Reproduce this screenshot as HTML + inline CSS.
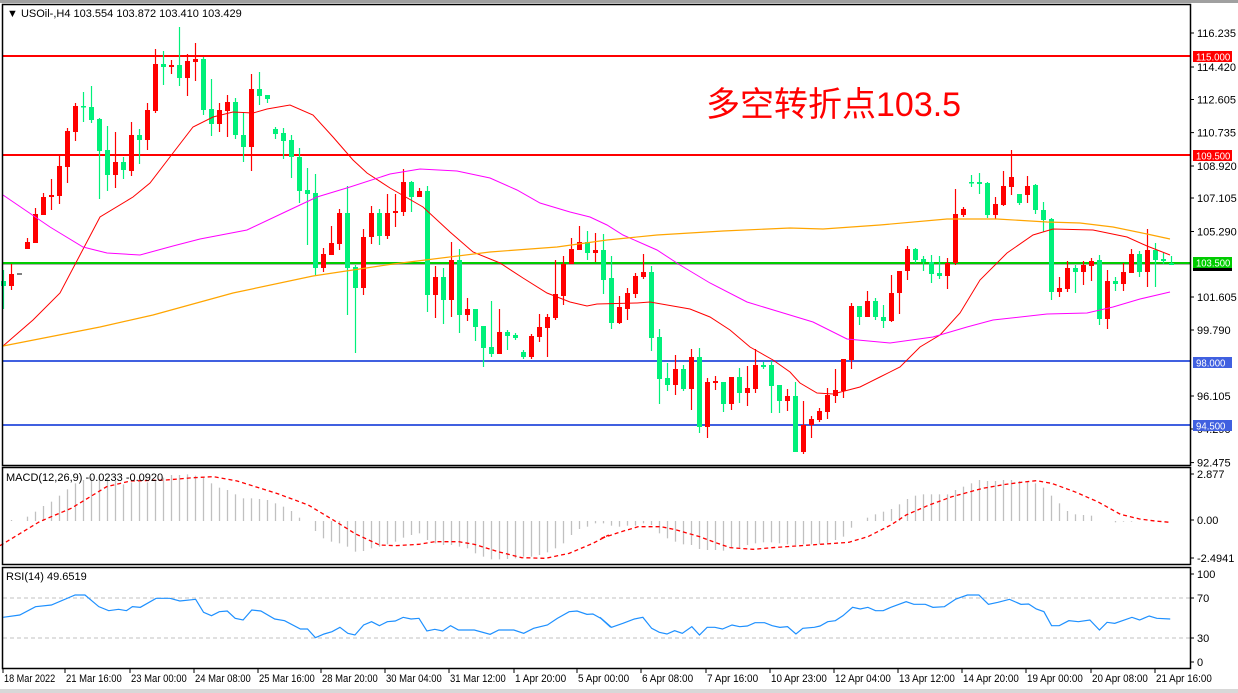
<!DOCTYPE html>
<html><head><meta charset="utf-8"><style>
html,body{margin:0;padding:0;background:#fff;width:1238px;height:693px;overflow:hidden}
svg{display:block}
text{font-family:"Liberation Sans",sans-serif;font-size:11px;fill:#000}
</style></head><body>
<svg id="s" width="1238" height="693" xmlns="http://www.w3.org/2000/svg">
<rect x="0" y="0" width="1238" height="3" fill="#a0a0a0"/>
<rect x="0" y="689" width="1238" height="4" fill="#d8d8d8"/>
<g id="g"></g>
<rect x="2.5" y="4.5" width="1188" height="461" fill="none" stroke="#000" stroke-width="1.5"/>
<rect x="2.5" y="467.5" width="1188" height="97" fill="none" stroke="#000" stroke-width="1.5"/>
<rect x="2.5" y="567.5" width="1188" height="101" fill="none" stroke="#000" stroke-width="1.5"/>
<text x="7" y="17">▼ USOil-,H4  103.554 103.872 103.410 103.429</text>
<text x="6" y="481">MACD(12,26,9) -0.0233 -0.0920</text>
<text x="6" y="580">RSI(14) 49.6519</text>
<text x="706" y="116" style="font-size:34px;fill:#ff0000;font-family:'Liberation Sans','Noto Sans CJK SC',sans-serif">多空转折点103.5</text>
<g id="ax"></g>
</svg>
<script>
var NS="http://www.w3.org/2000/svg",g=document.getElementById('g'),ax=document.getElementById('ax');
function el(p,t,a,txt){var e=document.createElementNS(NS,t);for(var k in a)e.setAttribute(k,a[k]);if(txt!=null)e.textContent=txt;p.appendChild(e);return e;}
el(g,'line',{x1:3,x2:1190,y1:264.5,y2:264.5,stroke:'#b0b0b0','stroke-width':1});
[[56,'#ff0000'],[155,'#ff0000'],[263,'#00cc00'],[361,'#4060e0'],[425,'#4060e0']].forEach(function(l){el(g,'line',{x1:3,x2:1190,y1:l[0],y2:l[0],stroke:l[1],'stroke-width':2});});
var C=[
['g',281,286,270,309],['r',274,286,264,290],null,['r',242,249,238,249],['r',214,243,208,243],['r',197,215,193,215],['r',195,197,179,210],['r',166,196,155,204],['r',131,167,128,183],['r',106,132,103,141],
['g',106,107,92,122],['g',107,120,86,123],['g',119,151,118,199],['g',150,175,126,191],['r',162,175,132,188],['g',162,170,157,179],['r',135,171,122,176],['g',135,140,129,164],['r',110,140,103,150],['r',64,111,49,113],
['g',64,67,51,85],['r',65,67,60,74],['g',65,78,27,86],['r',61,78,54,96],['r',59,62,43,81],['g',59,110,57,115],['g',109,124,79,136],['r',110,124,103,132],['r',102,111,95,137],['g',102,135,98,139],
['g',135,147,112,162],['r',89,147,74,171],['g',89,96,72,105],['g',95,99,95,103],['g',129,134,127,139],['g',133,141,128,159],['g',140,157,135,178],['g',157,191,148,203],['g',190,194,168,245],['g',193,268,174,275],
['r',254,268,248,272],['r',243,255,226,255],['r',213,244,209,250],['g',213,268,186,315],['g',267,288,265,353],['r',237,288,229,295],['r',213,237,206,244],['g',213,236,209,245],['r',213,236,194,239],['r',211,213,194,227],
['r',182,212,169,216],['g',182,197,181,212],['r',191,197,188,197],['g',191,295,186,312],['r',277,295,266,318],['g',277,300,268,324],['r',260,300,242,317],['g',260,315,249,333],['r',309,315,298,321],['g',309,327,309,341],
['g',326,348,326,367],['g',347,354,301,357],['r',332,354,309,354],['g',332,336,330,350],['g',335,338,333,340],['g',352,357,350,359],['r',336,357,334,359],['r',327,337,314,342],['r',317,328,314,357],['r',294,318,260,320],
['r',264,296,256,305],['r',249,264,238,264],['r',242,250,226,250],['g',242,253,231,260],['r',250,253,233,262],['g',250,280,234,294],['g',278,323,256,329],['r',307,323,296,324],['r',293,309,288,320],['r',276,294,273,298],
['r',272,277,254,279],['g',272,338,266,351],['g',337,379,329,404],['g',378,385,363,391],['r',369,385,355,395],['g',369,389,365,391],['r',357,389,349,410],['g',357,427,348,433],['r',382,427,378,438],['r',381,383,376,390],
['g',382,404,382,412],['r',377,404,377,410],['g',377,393,368,403],['r',388,393,366,406],['r',365,389,349,393],['g',365,367,362,369],['g',365,386,361,413],['g',385,401,385,413],['r',396,401,389,411],['g',396,452,382,452],
['r',425,452,401,454],['r',419,425,416,438],['r',411,420,408,422],['r',395,412,388,419],['r',390,396,369,403],['r',359,391,359,398],['r',306,360,303,369],['g',306,317,306,325],['r',301,317,291,317],['g',301,317,298,320],
['g',317,321,305,328],['r',293,321,275,322],['r',271,293,271,314],['r',249,271,246,280],['g',249,260,248,263],['g',259,262,256,271],['g',262,274,255,283],['g',273,276,256,279],['r',263,276,258,289],['r',214,263,189,265],
['r',209,215,207,217],['g',182,183,175,187],['g',182,184,173,194],['g',183,215,182,218],['r',204,215,197,219],['r',186,205,171,206],['r',177,187,150,195],['g',194,203,194,205],['r',186,195,176,203],['g',185,210,184,214],
['g',210,220,202,232],['g',219,292,218,300],['r',288,292,277,297],['r',268,289,261,292],['g',268,272,265,293],['r',265,272,261,285],['r',261,266,258,281],['g',260,319,255,325],['r',281,319,270,329],['g',281,284,277,291],
['r',272,284,263,291],['r',254,273,249,273],['g',254,272,251,277],['r',250,272,229,287],['g',250,260,243,287],['g',259,261,253,264],['g',263,265,256,265]];
C.forEach(function(c,i){if(!c)return;var x=3.5+8*i,col=c[0]=='r'?'#ff0000':'#00f07a';
el(g,'line',{x1:x,x2:x,y1:c[3],y2:c[4],stroke:col,'stroke-width':1.2});
el(g,'rect',{x:x-2.5,y:c[1],width:5,height:Math.max(1.5,c[2]-c[1]),fill:col});});
el(g,'line',{x1:17,x2:22,y1:274,y2:274,stroke:'#000','stroke-width':1});
function pl(pts,col,w,dash){el(g,'polyline',{points:pts.map(function(p){return p.join(',')}).join(' '),fill:'none',stroke:col,'stroke-width':w||1,'stroke-dasharray':dash||'none'});}
pl([[3,346],[33,320],[60,293],[100,217],[133,197],[150,183],[173,153],[193,127],[213,117],[233,112],[253,113],[267,109],[290,105],[313,115],[333,137],[353,160],[367,173],[390,188],[423,207],[450,232],[473,252],[500,263],[523,278],[547,293],[570,302],[587,306],[597,304],[637,303],[650,302],[690,309],[710,317],[730,330],[750,347],[773,360],[790,372],[800,383],[817,393],[833,394],[860,387],[880,377],[900,367],[920,347],[940,335],[960,313],[980,280],[1007,253],[1033,235],[1053,229],[1093,230],[1127,237],[1147,246],[1170,255]],'#ff0000',1);
pl([[3,195],[50,227],[83,247],[107,253],[140,255],[173,246],[200,239],[247,230],[283,213],[317,197],[350,187],[390,174],[420,169],[457,171],[490,178],[517,190],[540,203],[570,212],[590,217],[607,225],[623,235],[657,250],[680,265],[710,283],[747,302],[780,312],[813,322],[847,339],[890,343],[933,337],[967,327],[993,320],[1047,314],[1087,313],[1113,307],[1140,299],[1170,292]],'#ff00ff',1);
pl([[3,346],[100,327],[153,315],[233,293],[313,276],[393,264],[490,252],[557,247],[607,240],[657,235],[723,231],[790,228],[823,229],[880,225],[947,219],[997,219],[1047,222],[1080,223],[1113,227],[1147,234],[1170,239]],'#ffa500',1.2);
var H=[197,195,197,185,170,153,140,122,103,85,75,68,65,70,78,88,82,80,82,75,68,60,60,58,62,68,85,98,105,118,130,130,132,135,145,155,168,188,197,228,250,260,265,275,290,288,280,275,268,260,248,240,235,255,265,270,270,275,280,295,305,313,313,312,310,305,305,300,292,280,265,240,222,215,205,
205,212,215,212,212,205,210,235,250,260,268,270,282,285,285,287,280,278,270,265,262,262,265,268,270,268,268,268,265,255,245,218,197,188,178,170,162,148,132,122,118,118,118,118,105,95,85,75,78,78,75,75,78,82,85,98,122,145,168,178,180,182,197,197,202,200,200,197,197,197,197,197];
H.forEach(function(v,i){var x=3.5+8*i,y=455+v/3;if(Math.abs(y-521)<0.5)return;el(g,'line',{x1:x,x2:x,y1:521,y2:y,stroke:'#c0c0c0','stroke-width':1.3});});
var S=[[0,272],[100,200],[180,160],[270,95],[330,78],[420,75],[490,68],[540,65],[600,78],[700,115],[780,150],[850,200],[900,237],[960,270],[1000,272],[1060,268],[1100,260],[1160,260],[1200,268],[1260,290],[1320,308],[1380,310],[1440,295],[1500,265],[1540,240]].map(function(p){return[p[0]/2.53,455+p[1]/3]});
var S2=[[0,252],[50,232],[100,215],[160,215],[200,225],[260,245],[300,262],[340,278],[400,283],[450,278],[550,270],[650,262],[700,245],[760,210],[800,180],[860,150],[920,125],[1000,100],[1060,88],[1100,82],[1140,77],[1180,85],[1240,110],[1300,140],[1360,178],[1410,192],[1450,198],[1490,202]].map(function(p){return[600+p[0]/2.613,455+p[1]/3]});
pl(S.concat(S2),'#ff0000',1.3,'4,3');
el(g,'line',{x1:3,x2:1190,y1:598,y2:598,stroke:'#c0c0c0','stroke-dasharray':'4,3'});
el(g,'line',{x1:3,x2:1190,y1:638,y2:638,stroke:'#c0c0c0','stroke-dasharray':'4,3'});
var R=[[8,487],[50,480],[90,455],[130,450],[190,420],[215,420],[250,455],[275,467],[300,463],[320,467],[335,455],[355,457],[395,430],[430,430],[455,438],[495,433],[515,472],[535,482],[555,470],[575,468],[595,490],[615,495],[637,465],[660,468],[695,492],[720,497],[760,522],[778,522],[798,548],[820,537],[840,530],[860,517],[880,535],[898,540],[920,510],[940,500],[960,512],[980,500],[1000,498],[1020,487],[1040,492],[1060,490],[1080,528],[1100,523],[1120,528],[1140,512],[1160,525],[1200,525],[1240,538],[1262,525],[1300,525],[1325,535],[1350,520],[1385,510],[1410,490],[1440,470],[1460,468],[1485,478],[1500,477],[1520,490],[1545,517]].map(function(p){return[p[0]/2.53,455+p[1]/3]});
var R2=[[0,487],[30,517],[60,505],[90,492],[112,487],[135,520],[155,532],[175,537],[195,527],[215,535],[240,515],[260,540],[280,517],[300,517],[320,522],[345,510],[365,515],[385,513],[405,503],[430,503],[450,512],[470,517],[490,515],[512,537],[530,520],[560,517],[575,513],[595,500],[615,497],[635,482],[660,457],[680,462],[700,457],[720,467],[740,467],[760,457],[800,440],[820,448],[850,448],[870,457],[900,455],[930,432],[960,420],[990,420],[1015,448],[1040,442],[1070,433],[1100,448],[1120,447],[1140,462],[1160,470],[1180,512],[1200,512],[1225,497],[1250,500],[1280,495],[1305,525],[1325,502],[1345,505],[1365,497],[1390,487],[1410,495],[1435,483],[1455,490],[1490,492]].map(function(p){return[600+p[0]/2.613,455+p[1]/3]});
pl(R.concat(R2),'#1e90ff',1.2);
[['116.235',33],['114.420',67],['112.605',99.5],['110.735',132.6],['108.920',166],['107.105',198],['105.290',231.5],['101.605',297],['99.790',330],['96.105',396],['94.290',429],['92.475',462.6],
['2.877',474],['0.00',520],['-2.4941',558],['100',574],['70',598],['30',638],['0',662]].forEach(function(l){
el(ax,'line',{x1:1190,x2:1194,y1:l[1],y2:l[1],stroke:'#000'});el(ax,'text',{x:1197,y:l[1]+4},l[0]);});
[['115.000',51,'#ff0000'],['109.500',150,'#ff0000'],['103.500',257,'#00cc00'],['98.000',357,'#4060e0'],['94.500',420,'#4060e0']].forEach(function(l){
el(ax,'rect',{x:1193,y:l[1],width:39,height:11,fill:l[2]});
var t=el(ax,'text',{x:1196,y:l[1]+9.5,style:'fill:#fff;font-size:10.5px'},l[0]);
t.setAttribute('textLength',l[0].length*4.9);t.setAttribute('lengthAdjust','spacingAndGlyphs');});
el(ax,'rect',{x:1193,y:268,width:39,height:3,fill:'#000'});
[['18 Mar 2022',3],['21 Mar 16:00',65],['23 Mar 00:00',130],['24 Mar 08:00',194],['25 Mar 16:00',258],['28 Mar 20:00',321],['30 Mar 04:00',385],['31 Mar 12:00',449],['1 Apr 20:00',514],['5 Apr 00:00',577],['6 Apr 08:00',641],['7 Apr 16:00',706],['10 Apr 23:00',770],['12 Apr 04:00',834],['13 Apr 12:00',898],['14 Apr 20:00',962],['19 Apr 00:00',1026],['20 Apr 08:00',1091],['21 Apr 16:00',1155]].forEach(function(l){
el(ax,'line',{x1:l[1],x2:l[1],y1:669,y2:673,stroke:'#000'});
var t=el(ax,'text',{x:l[1]+1,y:682},l[0]);t.setAttribute('textLength',l[0].length*4.65);t.setAttribute('lengthAdjust','spacingAndGlyphs');});
</script>
</body></html>
